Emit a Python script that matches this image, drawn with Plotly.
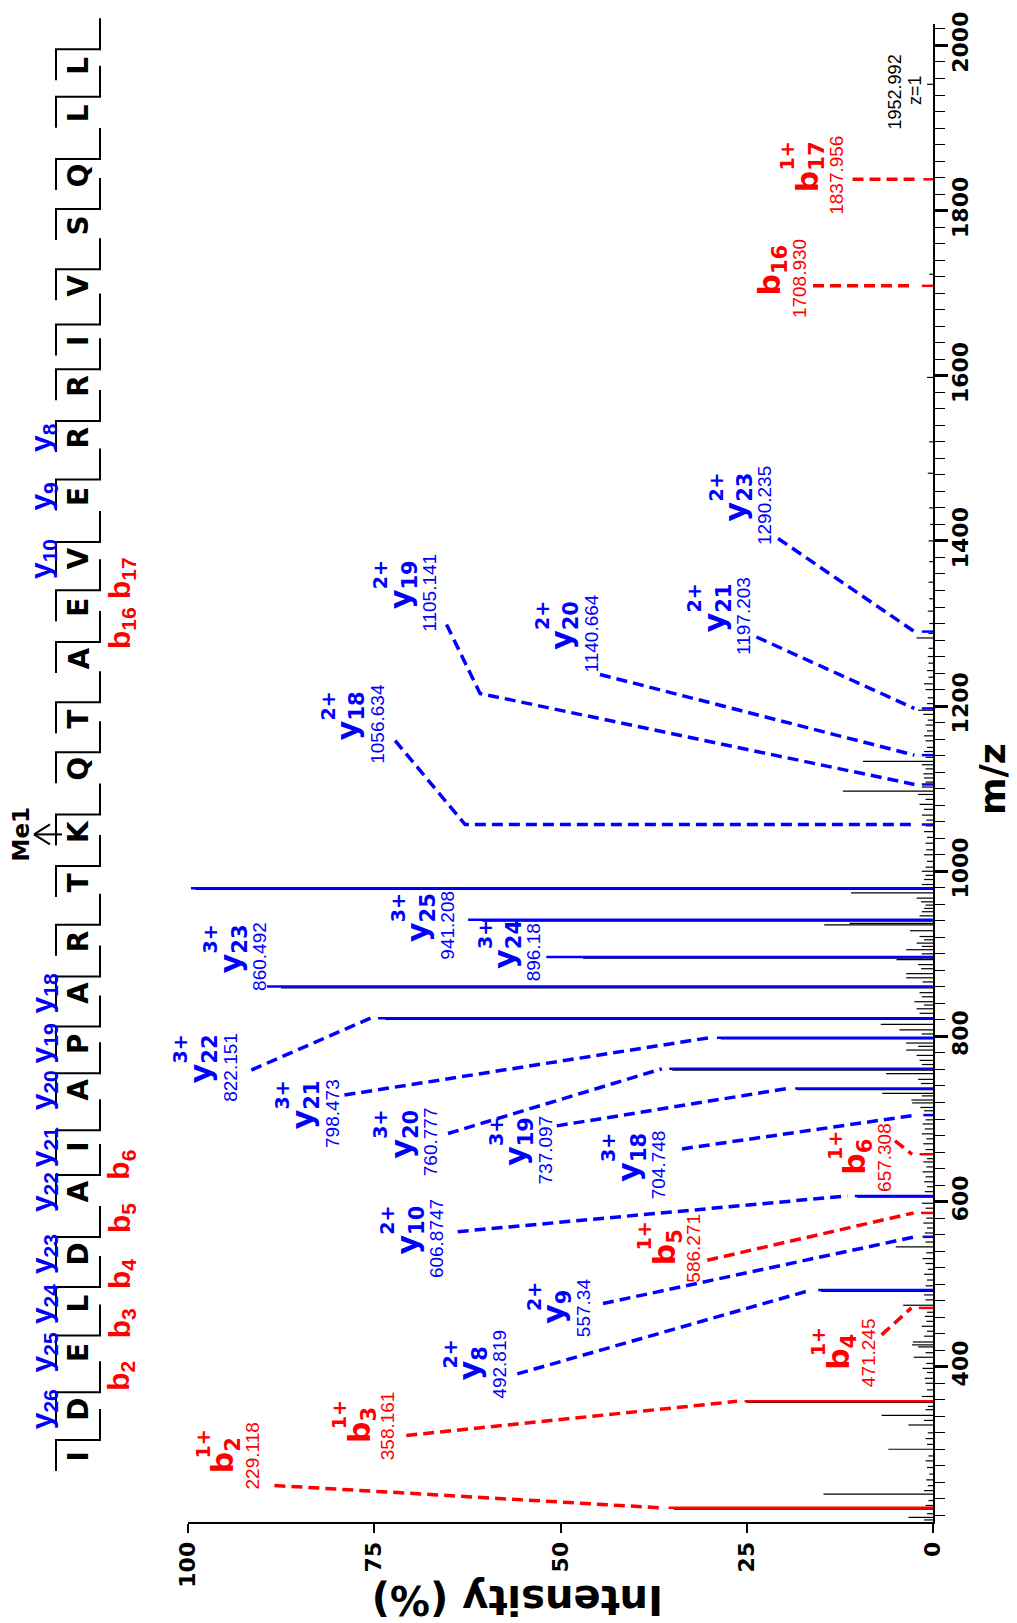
import plotly.graph_objects as go

# ---------------- data ----------------
sequence = list("IDELDAIAPARTKQTAEVERRIVSQLL")
seq_y_numbers = [26, 25, 24, 23, 22, 21, 20, 19, 18, 10, 9, 8]
seq_b_numbers = [2, 3, 4, 5, 6, 16, 17]
mod_residue_index = 12
mod_label = "Me1"

# unannotated (black) spectrum
spec_mz = [214.5, 217.6, 222.0, 227.6, 232.0, 238.0, 245.7, 250.0, 256.0, 263.0,
           270.0, 278.0, 286.0, 292.0, 300.1, 306.0, 313.0, 320.0, 329.5, 335.0,
           341.2, 348.0, 352.0, 356.7, 364.0, 372.0, 380.0, 386.0, 393.0, 398.0,
           404.0, 411.5, 417.0, 424.0, 426.5, 430.0, 437.0, 443.0, 449.0, 455.0,
           461.0, 466.0, 474.5, 481.0, 487.0, 491.3, 498.0, 505.0, 512.0, 518.0,
           525.0, 531.0, 538.0, 545.2, 551.0, 562.0, 568.0, 574.0, 580.0, 592.0,
           598.0, 605.4, 612.0, 618.0, 624.0, 630.0, 636.0, 642.0, 648.0, 652.0,
           663.0, 670.0, 676.0, 682.0, 688.0, 694.0, 699.0, 710.0, 714.0, 719.5,
           723.0, 728.0, 731.0, 735.6, 743.0, 748.0, 755.0, 759.3, 766.0, 771.0,
           777.0, 783.5, 788.0, 792.0, 797.0, 803.0, 808.0, 814.7, 820.7, 828.0,
           833.5, 838.0, 842.0, 848.0, 853.0, 858.9, 866.0, 871.0, 876.0, 882.0,
           887.0, 893.0, 894.7, 900.0, 905.0, 909.0, 913.0, 917.0, 921.0, 928.0,
           935.0, 937.0, 939.7, 946.0, 951.0, 955.0, 959.0, 963.0, 967.5, 973.8,
           978.0, 984.0, 990.0, 995.0, 1000.0, 1005.0, 1012.0, 1020.0, 1026.0, 1034.0,
           1041.0, 1048.0, 1055.0, 1062.0, 1068.0, 1075.0, 1081.0, 1087.0, 1093.0, 1097.0,
           1102.0, 1108.0, 1113.0, 1118.0, 1124.0, 1129.0, 1133.0, 1138.0, 1145.0, 1150.0,
           1158.0, 1164.0, 1170.0, 1177.0, 1183.0, 1190.0, 1195.0, 1203.0, 1210.0, 1220.0,
           1227.0, 1235.0, 1243.0, 1252.0, 1260.0, 1270.0, 1282.5, 1288.0, 1300.0, 1315.0,
           1330.0, 1350.0, 1375.0, 1400.0, 1420.0, 1440.0, 1482.0, 1520.0, 1598.0, 1723.0,
           1952.992]
spec_int = [1.2, 3.3, 0.8, 34.8, 1.0, 0.6, 14.7, 1.2, 0.7, 0.9,
            0.5, 0.8, 1.0, 0.6, 6.0, 0.8, 1.0, 0.7, 3.3, 1.2,
            6.9, 1.0, 0.7, 25.0, 1.5, 0.8, 1.0, 1.1, 0.8, 1.4,
            0.9, 2.6, 1.0, 2.0, 2.8, 2.7, 1.2, 0.8, 1.5, 0.9,
            1.1, 0.8, 4.0, 1.0, 1.2, 15.0, 1.0, 0.8, 1.2, 0.7,
            1.0, 1.4, 0.9, 5.0, 1.0, 1.1, 0.8, 1.3, 0.9, 1.0,
            1.5, 10.2, 1.1, 0.8, 1.2, 1.0, 1.4, 0.9, 1.3, 0.8,
            1.0, 1.3, 0.9, 1.5, 1.1, 1.4, 1.0, 1.2, 1.7, 2.8,
            2.9, 1.5, 6.8, 18.2, 1.6, 2.0, 6.3, 35.0, 1.5, 1.8,
            2.2, 3.6, 2.0, 3.6, 28.5, 1.5, 4.5, 7.0, 73.5, 1.8,
            2.2, 1.2, 2.5, 1.5, 1.8, 87.5, 1.4, 3.6, 3.6, 1.6,
            2.0, 4.9, 47.0, 1.5, 3.6, 1.5, 2.2, 1.2, 1.8, 3.1,
            14.6, 11.2, 60.5, 1.8, 1.5, 1.2, 1.0, 1.6, 2.2, 11.0,
            99.0, 1.5, 1.2, 1.0, 1.5, 1.0, 0.8, 1.2, 0.9, 1.0,
            0.8, 1.2, 1.0, 0.9, 1.5, 1.2, 1.8, 1.0, 2.0, 12.1,
            1.5, 1.0, 1.2, 1.3, 1.0, 1.5, 9.4, 1.0, 1.2, 0.8,
            1.0, 1.2, 0.8, 1.0, 0.7, 1.3, 2.0, 0.8, 0.7, 1.0,
            1.2, 0.6, 0.8, 0.6, 0.7, 0.6, 2.2, 0.6, 0.5, 0.7,
            0.5, 0.6, 0.5, 0.6, 0.4, 0.5, 0.7, 0.5, 0.8, 0.5,
            0.8]

# annotated fragment ions
ion_series = ["b", "b", "b", "b", "b", "b", "b",
              "y", "y", "y", "y", "y", "y", "y", "y", "y", "y", "y", "y",
              "y", "y", "y", "y", "y"]
ion_number = [2, 3, 4, 5, 6, 16, 17,
              8, 9, 10, 18, 19, 20, 21, 22, 23, 24, 25, 26,
              18, 19, 20, 21, 23]
ion_charge = ["1+", "1+", "1+", "1+", "1+", "", "1+",
              "2+", "2+", "2+", "3+", "3+", "3+", "3+", "3+", "3+", "3+", "3+", "3+",
              "2+", "2+", "2+", "2+", "2+"]
ion_mz_text = ["229.118", "358.161", "471.245", "586.271", "657.308", "1708.930", "1837.956",
               "492.819", "557.34", "606.8747", "704.748", "737.097", "760.777", "798.473",
               "822.151", "860.492", "896.18", "941.208", "979.551",
               "1056.634", "1105.141", "1140.664", "1197.203", "1290.235"]
ion_intensity = [35.5, 25.3, 1.9, 1.6, 1.8, 1.5, 1.3,
                 15.4, 1.4, 10.5, 1.3, 18.5, 35.4, 29.0, 74.5, 89.4, 51.9, 62.4, 99.6,
                 1.5, 1.5, 1.5, 1.5, 1.5]
# label placement (intensity of label edge, m/z of label centre)
label_int = [90.3, 72.1, 7.7, 31.1, 5.5, 17.0, 11.9,
             57.2, 45.9, 65.6, 35.9, 51.0, 66.5, 79.7, 93.4, 89.4, 52.5, 64.2, 100.6,
             73.6, 66.6, 44.9, 24.4, 21.6]
label_mz = [292.3, 328.4, 416.6, 544.0, 653.5, 1718.1, 1843.2,
            403.0, 471.6, 555.5, 644.0, 662.6, 672.0, 707.0, 762.8, 896.9, 902.3, 934.4, 1018.6,
            1178.8, 1337.7, 1288.0, 1308.8, 1443.0]
# leader line start and optional bend (None = peak line reaches label directly)
leader_int = [88.4, 70.7, 6.9, 30.3, 5.1, 16.1, 10.8,
              55.8, 44.3, 63.8, 33.7, 50.5, 65.1, 79.0, 91.5, None, None, None, None,
              72.2, 65.3, 44.7, 23.7, 20.8]
leader_mz = [256.2, 316.8, 438.6, 529.0, 673.4, 1708.93, 1837.956,
             391.3, 476.6, 563.6, 663.8, 691.7, 682.4, 729.0, 759.3, None, None, None, None,
             1158.2, 1298.9, 1238.3, 1283.7, 1403.0]
bend_int = [None] * 19 + [62.8, 60.8, None, None, None]
bend_mz = [None] * 19 + [1056.634, 1215.3, None, None, None]

precursor_text = "1952.992"
precursor_charge_text = "z=1"
precursor_label_int = 4.2
precursor_label_mz = 1944.0

# ---------------- layout constants (pixels) ----------------
W, H = 1017, 1623
PL, PR, PT, PB = 188, 933, 24, 1522
X_RANGE = [100, 0]
Y_RANGE = [212, 2026]
BLUE, RED, BLACK = "#0000FF", "#FF0000", "#000000"
BOLD = "DejaVu Sans"
REG = "Liberation Sans"

SEQ_PX_Y = [1456.9, 1409.3, 1352.4, 1304.1, 1254.1, 1192.1, 1147.2, 1090.3, 1043.4,
            993.4, 941.7, 883.1, 831.4, 769.3, 719.3, 659.0, 607.2, 559.0, 496.6,
            437.9, 386.2, 341.4, 286.2, 225.9, 175.9, 113.8, 66.2]


def px_x(px):
    return (px - PL) / (PR - PL)


def px_y(py):
    return (PB - py) / (PB - PT)


fig = go.Figure()

# black spectrum
bx, by = [], []
for mz, it in zip(spec_mz, spec_int):
    bx += [0, it, None]
    by += [mz, mz, None]
fig.add_trace(go.Scatter(x=bx, y=by, mode="lines", line=dict(color=BLACK, width=1.2),
                         hoverinfo="skip", showlegend=False))

GAP = 1.0
for series, col in (("b", RED), ("y", BLUE)):
    lx, ly, px_, py_ = [], [], [], []
    for i in range(len(ion_series)):
        if ion_series[i] != series:
            continue
        mz = float(ion_mz_text[i])
        px_ += [0, ion_intensity[i], None]
        py_ += [mz, mz, None]
        if leader_int[i] is not None:
            lx.append(leader_int[i]); ly.append(leader_mz[i])
            if bend_int[i] is not None:
                lx.append(bend_int[i]); ly.append(bend_mz[i])
            lx += [ion_intensity[i] + GAP, None]
            ly += [mz, None]
    fig.add_trace(go.Scatter(x=lx, y=ly, mode="lines",
                             line=dict(color=col, width=3.5, dash="11px,6px"),
                             hoverinfo="skip", showlegend=False))
    fig.add_trace(go.Scatter(x=px_, y=py_, mode="lines", line=dict(color=col, width=2.5),
                             hoverinfo="skip", showlegend=False))

ann = []
shapes = []

# ion labels
LET = 30
for i in range(len(ion_series)):
    col = RED if ion_series[i] == "b" else BLUE
    xr, yc = label_int[i], label_mz[i]
    ann.append(dict(x=xr, y=yc, xref="x", yref="y", text=ion_mz_text[i], showarrow=False,
                    textangle=-90, xanchor="right", yanchor="middle", xshift=5,
                    font=dict(family=REG, size=19, color=col)))
    nsub = len(str(ion_number[i]))
    l1 = (0.716 if ion_series[i] == "b" else 0.652) * LET
    l2 = nsub * 0.696 * LET * 0.7
    ann.append(dict(x=xr, y=yc, xref="x", yref="y",
                    text="<b>%s<sub>%d</sub></b>" % (ion_series[i], ion_number[i]),
                    showarrow=False, textangle=-90, xanchor="center", yanchor="middle",
                    xshift=-35, yshift=l2 / 2 - 6.5,
                    font=dict(family=BOLD, size=LET, color=col)))
    if ion_charge[i]:
        ann.append(dict(x=xr, y=yc, xref="x", yref="y", text="<b>%s</b>" % ion_charge[i],
                        showarrow=False, textangle=-90, xanchor="center", yanchor="middle",
                        xshift=-57, yshift=-6.5 + (l1 + l2) / 2,
                        font=dict(family=BOLD, size=19, color=col)))

# precursor
ann.append(dict(x=precursor_label_int, y=precursor_label_mz, xref="x", yref="y",
                text=precursor_text, showarrow=False, textangle=-90, xanchor="right",
                yanchor="middle", xshift=5, font=dict(family=REG, size=18, color=BLACK)))
ann.append(dict(x=0, y=precursor_label_mz + 2, xref="x", yref="y",
                text=precursor_charge_text, showarrow=False, textangle=-90, xanchor="right",
                yanchor="middle", xshift=-6, font=dict(family=REG, size=18, color=BLACK)))

# sequence
for i, aa in enumerate(sequence):
    yc = SEQ_PX_Y[i]
    ann.append(dict(x=px_x(78.5), y=px_y(yc), xref="paper", yref="paper",
                    text="<b>%s</b>" % aa, showarrow=False, textangle=-90,
                    xanchor="center", yanchor="middle",
                    font=dict(family=BOLD, size=28, color=BLACK)))
    h = yc - 17
    path = "M %f,%f L %f,%f L %f,%f L %f,%f" % (
        px_x(100), px_y(h - 31), px_x(100), px_y(h), px_x(56), px_y(h), px_x(56), px_y(h + 31))
    shapes.append(dict(type="path", xref="paper", yref="paper", path=path,
                       line=dict(color=BLACK, width=2)))

for k in seq_y_numbers:
    idx = len(sequence) - k
    ann.append(dict(x=px_x(43), y=px_y(SEQ_PX_Y[idx]), xref="paper", yref="paper",
                    text="<b>y<sub>%d</sub></b>" % k, showarrow=False, textangle=-90,
                    xanchor="center", yanchor="middle",
                    font=dict(family=REG, size=30, color=BLUE, weight="bold")))
for k in seq_b_numbers:
    yc = (SEQ_PX_Y[k - 1] + SEQ_PX_Y[k]) / 2 - 5
    ann.append(dict(x=px_x(121), y=px_y(yc), xref="paper", yref="paper",
                    text="<b>b<sub>%d</sub></b>" % k, showarrow=False, textangle=-90,
                    xanchor="center", yanchor="middle",
                    font=dict(family=REG, size=30, color=RED, weight="bold")))

# modification
my = SEQ_PX_Y[mod_residue_index] + 3
ann.append(dict(x=px_x(21), y=px_y(my), xref="paper", yref="paper",
                text="<b>%s</b>" % mod_label, showarrow=False, textangle=-90,
                xanchor="center", yanchor="middle", font=dict(family=BOLD, size=23, color=BLACK)))
for (x0, y0, x1, y1) in ((62, my, 34, my), (34, my, 50, my - 10), (34, my, 50, my + 10)):
    shapes.append(dict(type="line", xref="paper", yref="paper",
                       x0=px_x(x0), y0=px_y(y0), x1=px_x(x1), y1=px_y(y1),
                       line=dict(color=BLACK, width=2)))

# axis titles
ann.append(dict(x=px_x(992), y=px_y(779), xref="paper", yref="paper", text="<b>m/z</b>",
                showarrow=False, textangle=-90, xanchor="center", yanchor="middle",
                font=dict(family=BOLD, size=36, color=BLACK)))
ann.append(dict(x=px_x(518), y=px_y(1600), xref="paper", yref="paper",
                text="<b>Intensity (%)</b>", showarrow=False, textangle=180,
                xanchor="center", yanchor="middle",
                font=dict(family=BOLD, size=40, color=BLACK)))

fig.update_layout(
    width=W, height=H,
    margin=dict(l=PL, r=W - PR, t=PT, b=H - PB, pad=0),
    paper_bgcolor="white", plot_bgcolor="white",
    annotations=ann, shapes=shapes,
    xaxis=dict(range=X_RANGE, showgrid=False, zeroline=False, showline=True,
               linecolor=BLACK, linewidth=2, ticks="outside", ticklen=9, tickwidth=2,
               tickcolor=BLACK, tickmode="array", tickvals=[0, 25, 50, 75, 100],
               ticktext=["0", "25", "50", "75", "100"], tickangle=-90,
               tickfont=dict(family=BOLD, size=22, color=BLACK, weight="bold")),
    yaxis=dict(range=Y_RANGE, side="right", showgrid=False, zeroline=False, showline=True,
               linecolor=BLACK, linewidth=2, ticks="outside", ticklen=13, tickwidth=3,
               tickcolor=BLACK, tick0=0, dtick=200, tickangle=-90, ticklabelstandoff=-6,
               tickfont=dict(family=BOLD, size=22, color=BLACK, weight="bold"),
               minor=dict(ticks="outside", ticklen=10, tickwidth=1.3, tickcolor=BLACK,
                          dtick=20, tick0=0, showgrid=False)),
    showlegend=False,
)

fig.write_html("out.html")
